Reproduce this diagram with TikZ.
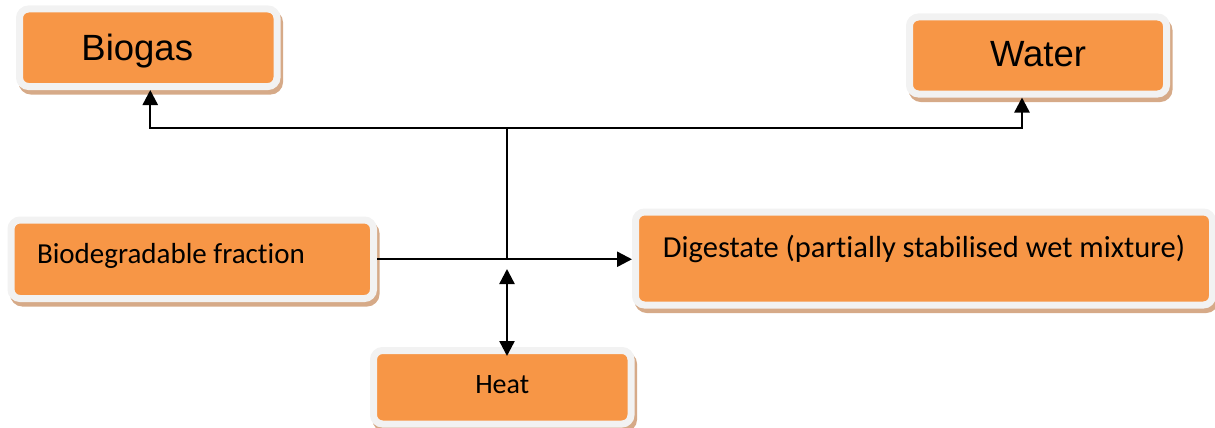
\documentclass[tikz,border=0pt]{standalone}
\usepackage{fontspec}
\setmainfont{Carlito}[Ligatures=NoCommon]
\newfontfamily\arialfont{Liberation Sans}
\usepackage{xcolor}
\usepackage{tikz}
\usetikzlibrary{shadows,arrows.meta}
\definecolor{boxorange}{RGB}{247,150,70}
\definecolor{boxrim}{RGB}{242,242,242}
\definecolor{boxshade}{RGB}{214,170,136}

\begin{document}
\begin{tikzpicture}[x=1pt,y=-1pt,
	box/.style={rectangle, rounded corners=9pt, fill=boxorange, draw=boxrim, line width=7pt, inner sep=0pt,
		general shadow={fill=boxshade, draw=boxshade, line width=7pt, shadow xshift=2.5pt, shadow yshift=-4.5pt}},
	flow/.style={line width=2.4pt, -{Triangle[length=15pt,width=15pt]}},
	twoway/.style={line width=2.4pt, {Triangle[length=15pt,width=15pt]}-{Triangle[length=15pt,width=15pt]}}]
	\useasboundingbox (0,0) rectangle (1215,428);
	\node[box, minimum width=257.5pt, minimum height=77.5pt, text height=51pt, text depth=26.5pt, font=\arialfont\fontsize{36.5}{40}\selectfont] (biogas) at (148.25,47.75) {\hspace*{-22pt}Biogas};
	\node[box, minimum width=257pt, minimum height=77pt, text height=49.7pt, text depth=27.3pt, font=\arialfont\fontsize{36.5}{40}\selectfont] (water) at (1038,55.5) {Water};
	\node[box, minimum width=362.5pt, minimum height=78.5pt, text width=310.5pt, align=flush left, text height=43pt, text depth=35.5pt, font=\fontsize{29}{33}\selectfont] (feed) at (192.25,259.25) {Biodegradable fraction};
	\node[box, minimum width=577pt, minimum height=93pt, text height=45pt, text depth=48pt, font=\fontsize{30.5}{34}\selectfont] (digest) at (924,258.5) {Digestate (partially stabilised wet mixture)};
	\node[box, minimum width=257.5pt, minimum height=73.5pt, text height=42.5pt, text depth=31pt, font=\fontsize{28}{32}\selectfont] (heat) at (502.25,387.25) {Heat};
	\coordinate (top) at (507,128);
	\coordinate (hx) at (507,269);
	\draw[flow] (top) -| ([xshift=2pt]biogas.south);
	\draw[flow] (top) -| ([xshift=-16pt]water.south);
	\draw[line width=2.4pt] (top) -- (top |- feed.east);
	\draw[flow] (feed.east) -- (feed.east -| digest.west);
	\draw[twoway, shorten >=-9pt] (hx) -- (hx |- heat.north);
\end{tikzpicture}
\end{document}
